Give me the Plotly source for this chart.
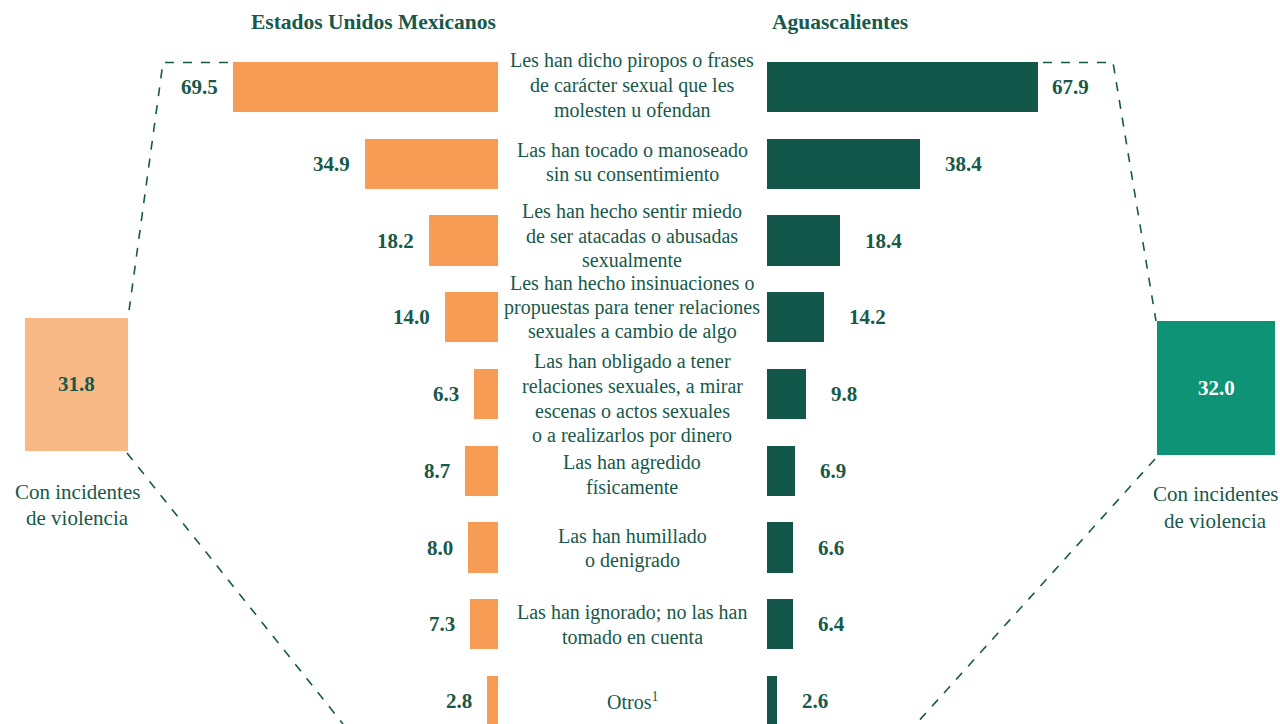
import plotly.graph_objects as go

categories = [
    "Les han dicho piropos o frases<br>de carácter sexual que les<br>molesten u ofendan",
    "Las han tocado o manoseado<br>sin su consentimiento",
    "Les han hecho sentir miedo<br>de ser atacadas o abusadas<br>sexualmente",
    "Les han hecho insinuaciones o<br>propuestas para tener relaciones<br>sexuales a cambio de algo",
    "Las han obligado a tener<br>relaciones sexuales, a mirar<br>escenas o actos sexuales<br>o a realizarlos por dinero",
    "Las han agredido<br>físicamente",
    "Las han humillado<br>o denigrado",
    "Las han ignorado; no las han<br>tomado en cuenta",
    "Otros<sup>1</sup>",
]
mexico = [69.5, 34.9, 18.2, 14.0, 6.3, 8.7, 8.0, 7.3, 2.8]
aguascalientes = [67.9, 38.4, 18.4, 14.2, 9.8, 6.9, 6.6, 6.4, 2.6]
total_mexico = 31.8
total_ags = 32.0
header_left = "Estados Unidos Mexicanos"
header_right = "Aguascalientes"
box_caption_lines = ["Con incidentes", "de violencia"]

# layout / styling (pixel offsets)
label_center_offsets = [-2, -2, -5, -10, 4.5, 3.5, 1, 0, 0]
right_value_gaps = [12, 23, 23, 23, 23, 23, 23, 23, 23]
LINE_H = 24.5

OX, OY = 0, 0
W, H = 1280, 724
ORANGE = "#F79C55"
LIGHT_ORANGE = "#F9B987"
DARK_GREEN = "#12574A"
TEAL = "#0E9377"
TEXT = "#17594A"
FONT = "Liberation Serif"

def px(x):
    return (x - OX) / W

def py(y):
    return 1 - (y - OY) / H

ROW0, PITCH = 87.0, 76.75

fig = go.Figure()
fig.add_trace(go.Bar(
    x=mexico, y=categories, orientation="h", xaxis="x", yaxis="y",
    marker=dict(color=ORANGE, line=dict(width=0)), width=0.652,
    hoverinfo="x", showlegend=False,
))
fig.add_trace(go.Bar(
    x=aguascalientes, y=categories, orientation="h", xaxis="x2", yaxis="y",
    marker=dict(color=DARK_GREEN, line=dict(width=0)), width=0.652,
    hoverinfo="x", showlegend=False,
))

annotations = []
for i, (cat, v1, v2) in enumerate(zip(categories, mexico, aguascalientes)):
    annotations.append(dict(
        x=v1, y=cat, xref="x", yref="y", text=f"<b>{v1:.1f}</b>",
        showarrow=False, xanchor="right", yanchor="middle", xshift=-13,
        font=dict(family=FONT, size=21, color=TEXT),
    ))
    annotations.append(dict(
        x=v2, y=cat, xref="x2", yref="y", text=f"<b>{v2:.1f}</b>",
        showarrow=False, xanchor="left", yanchor="middle", xshift=right_value_gaps[i],
        font=dict(family=FONT, size=21, color=TEXT),
    ))
    lines = cat.split("<br>")
    n = len(lines)
    for j, line in enumerate(lines):
        dy = (j - (n - 1) / 2) * LINE_H + label_center_offsets[i]
        annotations.append(dict(
            x=px(632), y=cat, xref="paper", yref="y", text=line,
            showarrow=False, xanchor="center", yanchor="middle", yshift=-dy,
            font=dict(family=FONT, size=20, color=TEXT),
        ))

def text_at(x, y, txt, size, color=TEXT):
    return dict(x=px(x), y=py(y), xref="paper", yref="paper", text=txt,
                showarrow=False, xanchor="center", yanchor="middle",
                font=dict(family=FONT, size=size, color=color))

annotations += [
    text_at(373.5, 22, f"<b>{header_left}</b>", 21.5),
    text_at(840, 22, f"<b>{header_right}</b>", 21.5),
    text_at(76.5, 384, f"<b>{total_mexico:.1f}</b>", 21),
    text_at(1216, 388, f"<b>{total_ags:.1f}</b>", 21, "white"),
    text_at(77, 492, box_caption_lines[0], 21),
    text_at(77, 518, box_caption_lines[1], 21),
    text_at(1215, 494, box_caption_lines[0], 21),
    text_at(1215, 521, box_caption_lines[1], 21),
]

shapes = [
    dict(type="rect", xref="paper", yref="paper", x0=px(25), x1=px(128), y0=py(318), y1=py(451),
         fillcolor=LIGHT_ORANGE, line=dict(width=0), layer="below"),
    dict(type="rect", xref="paper", yref="paper", x0=px(1157), x1=px(1275), y0=py(321), y1=py(455),
         fillcolor=TEAL, line=dict(width=0), layer="below"),
    dict(type="path", xref="paper", yref="paper",
         path=f"M {px(228)},{py(62.5)} L {px(163)},{py(62.5)} L {px(128)},{py(318)}",
         line=dict(color=TEXT, width=1.6, dash="dash")),
    dict(type="line", xref="paper", yref="paper", x0=px(127), y0=py(453), x1=px(343), y1=py(724),
         line=dict(color=TEXT, width=1.6, dash="dash")),
    dict(type="path", xref="paper", yref="paper",
         path=f"M {px(1043)},{py(62.5)} L {px(1113)},{py(62.5)} L {px(1156)},{py(321)}",
         line=dict(color=TEXT, width=1.6, dash="dash")),
    dict(type="line", xref="paper", yref="paper", x0=px(1155), y0=py(459), x1=px(916), y1=py(724),
         line=dict(color=TEXT, width=1.6, dash="dash")),
]

axis_hidden = dict(showgrid=False, zeroline=False, showticklabels=False, showline=False, ticks="")
y_top = (OY - ROW0) / PITCH
y_bottom = (len(categories) - 1) + (724 - (ROW0 + PITCH * (len(categories) - 1))) / PITCH
fig.update_layout(
    width=W, height=H,
    margin=dict(l=0, r=0, t=0, b=0),
    paper_bgcolor="white", plot_bgcolor="white",
    xaxis=dict(domain=[0, px(498)], range=[(498 - OX) / 3.81, 0], fixedrange=True, **axis_hidden),
    xaxis2=dict(domain=[px(767), 1], range=[0, (OX + W - 767) / 3.99], fixedrange=True,
                anchor="y", **axis_hidden),
    yaxis=dict(type="category", range=[y_bottom, y_top], domain=[0, 1], fixedrange=True,
               **axis_hidden),
    annotations=annotations,
    shapes=shapes,
    bargap=0,
)

fig.write_html(
    "out.html",
    config={"displayModeBar": False},
    post_script="document.body.style.margin='0';document.body.style.overflow='hidden';"
                "document.documentElement.style.overflow='hidden';",
)
